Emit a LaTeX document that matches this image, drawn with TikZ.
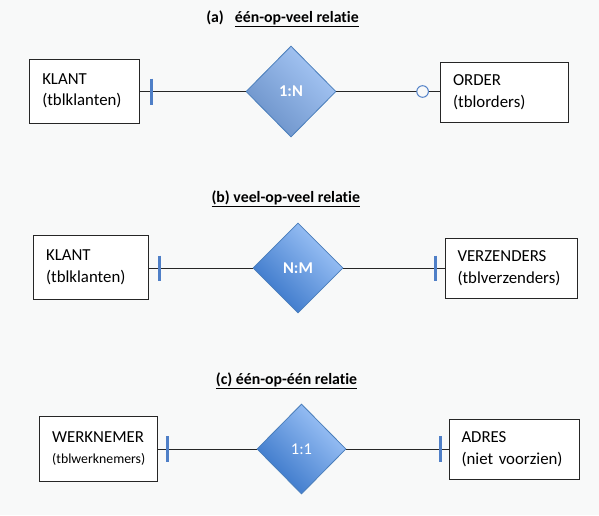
\documentclass[tikz,border=0pt]{standalone}
\usepackage{fontspec}
\setmainfont{Carlito}[Ligatures=NoCommon]
\usetikzlibrary{shapes.geometric}
\definecolor{bgcol}{HTML}{F8F9F9}
\definecolor{barblue}{HTML}{4F7FC7}
\definecolor{dborder}{HTML}{4A7EBB}
\definecolor{adark}{HTML}{6A91C8}
\definecolor{alight}{HTML}{A8C8F6}
\definecolor{bdark}{HTML}{3573C7}
\definecolor{blight}{HTML}{A2C7F9}
\tikzset{
  entity/.style={draw=black!85, fill=white, line width=0.8pt, align=left,
    inner xsep=12.5pt, inner ysep=0pt, font=\fontsize{16.8}{21.5}\selectfont},
  relbox/.style={diamond, aspect=1, inner sep=0pt, draw=dborder, line width=0.8pt,
    text=white, font=\fontsize{16.5}{19}\selectfont},
  rela/.style={relbox, top color=alight, bottom color=adark, shading angle=-45},
  relb/.style={relbox, top color=blight, bottom color=bdark, shading angle=-45},
  conn/.style={draw=black!85, line width=1pt},
  barmark/.style={draw=barblue, line width=3pt},
  circmark/.style={draw=barblue, line width=1pt, fill=bgcol},
  titlestyle/.style={font=\fontsize{15.8}{19}\selectfont\bfseries, inner sep=0pt}
}
\begin{document}
\begin{tikzpicture}[x=1pt,y=-1pt]
\useasboundingbox (0,0) rectangle (599,515);
\fill[bgcol] (0,0) rectangle (599,515);

% ---------- (a) ----------
\node[titlestyle] (ta) at (282.5,19) {(a)\hspace{11pt}\underline{één-op-veel relatie}};
\node[entity, text width=84.7pt, minimum height=64pt] (A1) at (84.6,91) {KLANT\\(tblklanten)};
\node[entity, text width=103pt, minimum height=60pt] (A2) at (504.6,92) {ORDER\\(tblorders)};
\node[rela, minimum width=90pt, minimum height=91pt] (DA) at (291,91.5) {\bfseries 1:N};
\draw[conn] (DA.west) -- (DA.west -| A1.east);
\draw[conn] (DA.east) -- (DA.east -| A2.west);
\draw[barmark] ([xshift=12pt]A1.east |- DA.west) ++(0,-13) -- ++(0,26);
\draw[circmark] ([xshift=-17.6pt]A2.west |- DA.east) circle (5.8pt);

% ---------- (b) ----------
\node[titlestyle] (tb) at (285.8,199) {\underline{(b) veel-op-veel relatie}};
\node[entity, text width=89.4pt, minimum height=63.3pt] (B1) at (90.8,267.4) {KLANT\\(tblklanten)};
\node[entity, text width=107pt, minimum height=59.3pt] (B2) at (511,268.3) {VERZENDERS\\(tblverzenders)};
\node[relb, minimum width=90pt, minimum height=90pt] (DB) at (298,268) {\bfseries N:M};
\draw[conn] (DB.west) -- (DB.west -| B1.east);
\draw[conn] (DB.east) -- (DB.east -| B2.west);
\draw[barmark] ([xshift=11pt]B1.east |- DB.west) ++(0,-12.5) -- ++(0,25);
\draw[barmark] ([xshift=-9pt]B2.west |- DB.east) ++(0,-12.5) -- ++(0,25);

% ---------- (c) ----------
\node[titlestyle] (tc) at (286.5,381) {\underline{(c) één-op-één relatie}};
\node[entity, text width=93pt, minimum height=64.3pt] (C1) at (98.7,448.8) {WERKNEMER\\{\fontsize{13.8}{17}\selectfont(tblwerknemers)}};
\node[entity, text width=105pt, minimum height=59.3pt] (C2) at (514,449.3) {ADRES\\(niet voorzien)};
\node[relb, minimum width=89pt, minimum height=90pt] (DC) at (301.5,449) {1:1};
\draw[conn] (DC.west) -- (DC.west -| C1.east);
\draw[conn] (DC.east) -- (DC.east -| C2.west);
\draw[barmark] ([xshift=9.6pt]C1.east |- DC.west) ++(0,-13) -- ++(0,26);
\draw[barmark] ([xshift=-8.4pt]C2.west |- DC.east) ++(0,-13) -- ++(0,26);
\end{tikzpicture}
\end{document}
